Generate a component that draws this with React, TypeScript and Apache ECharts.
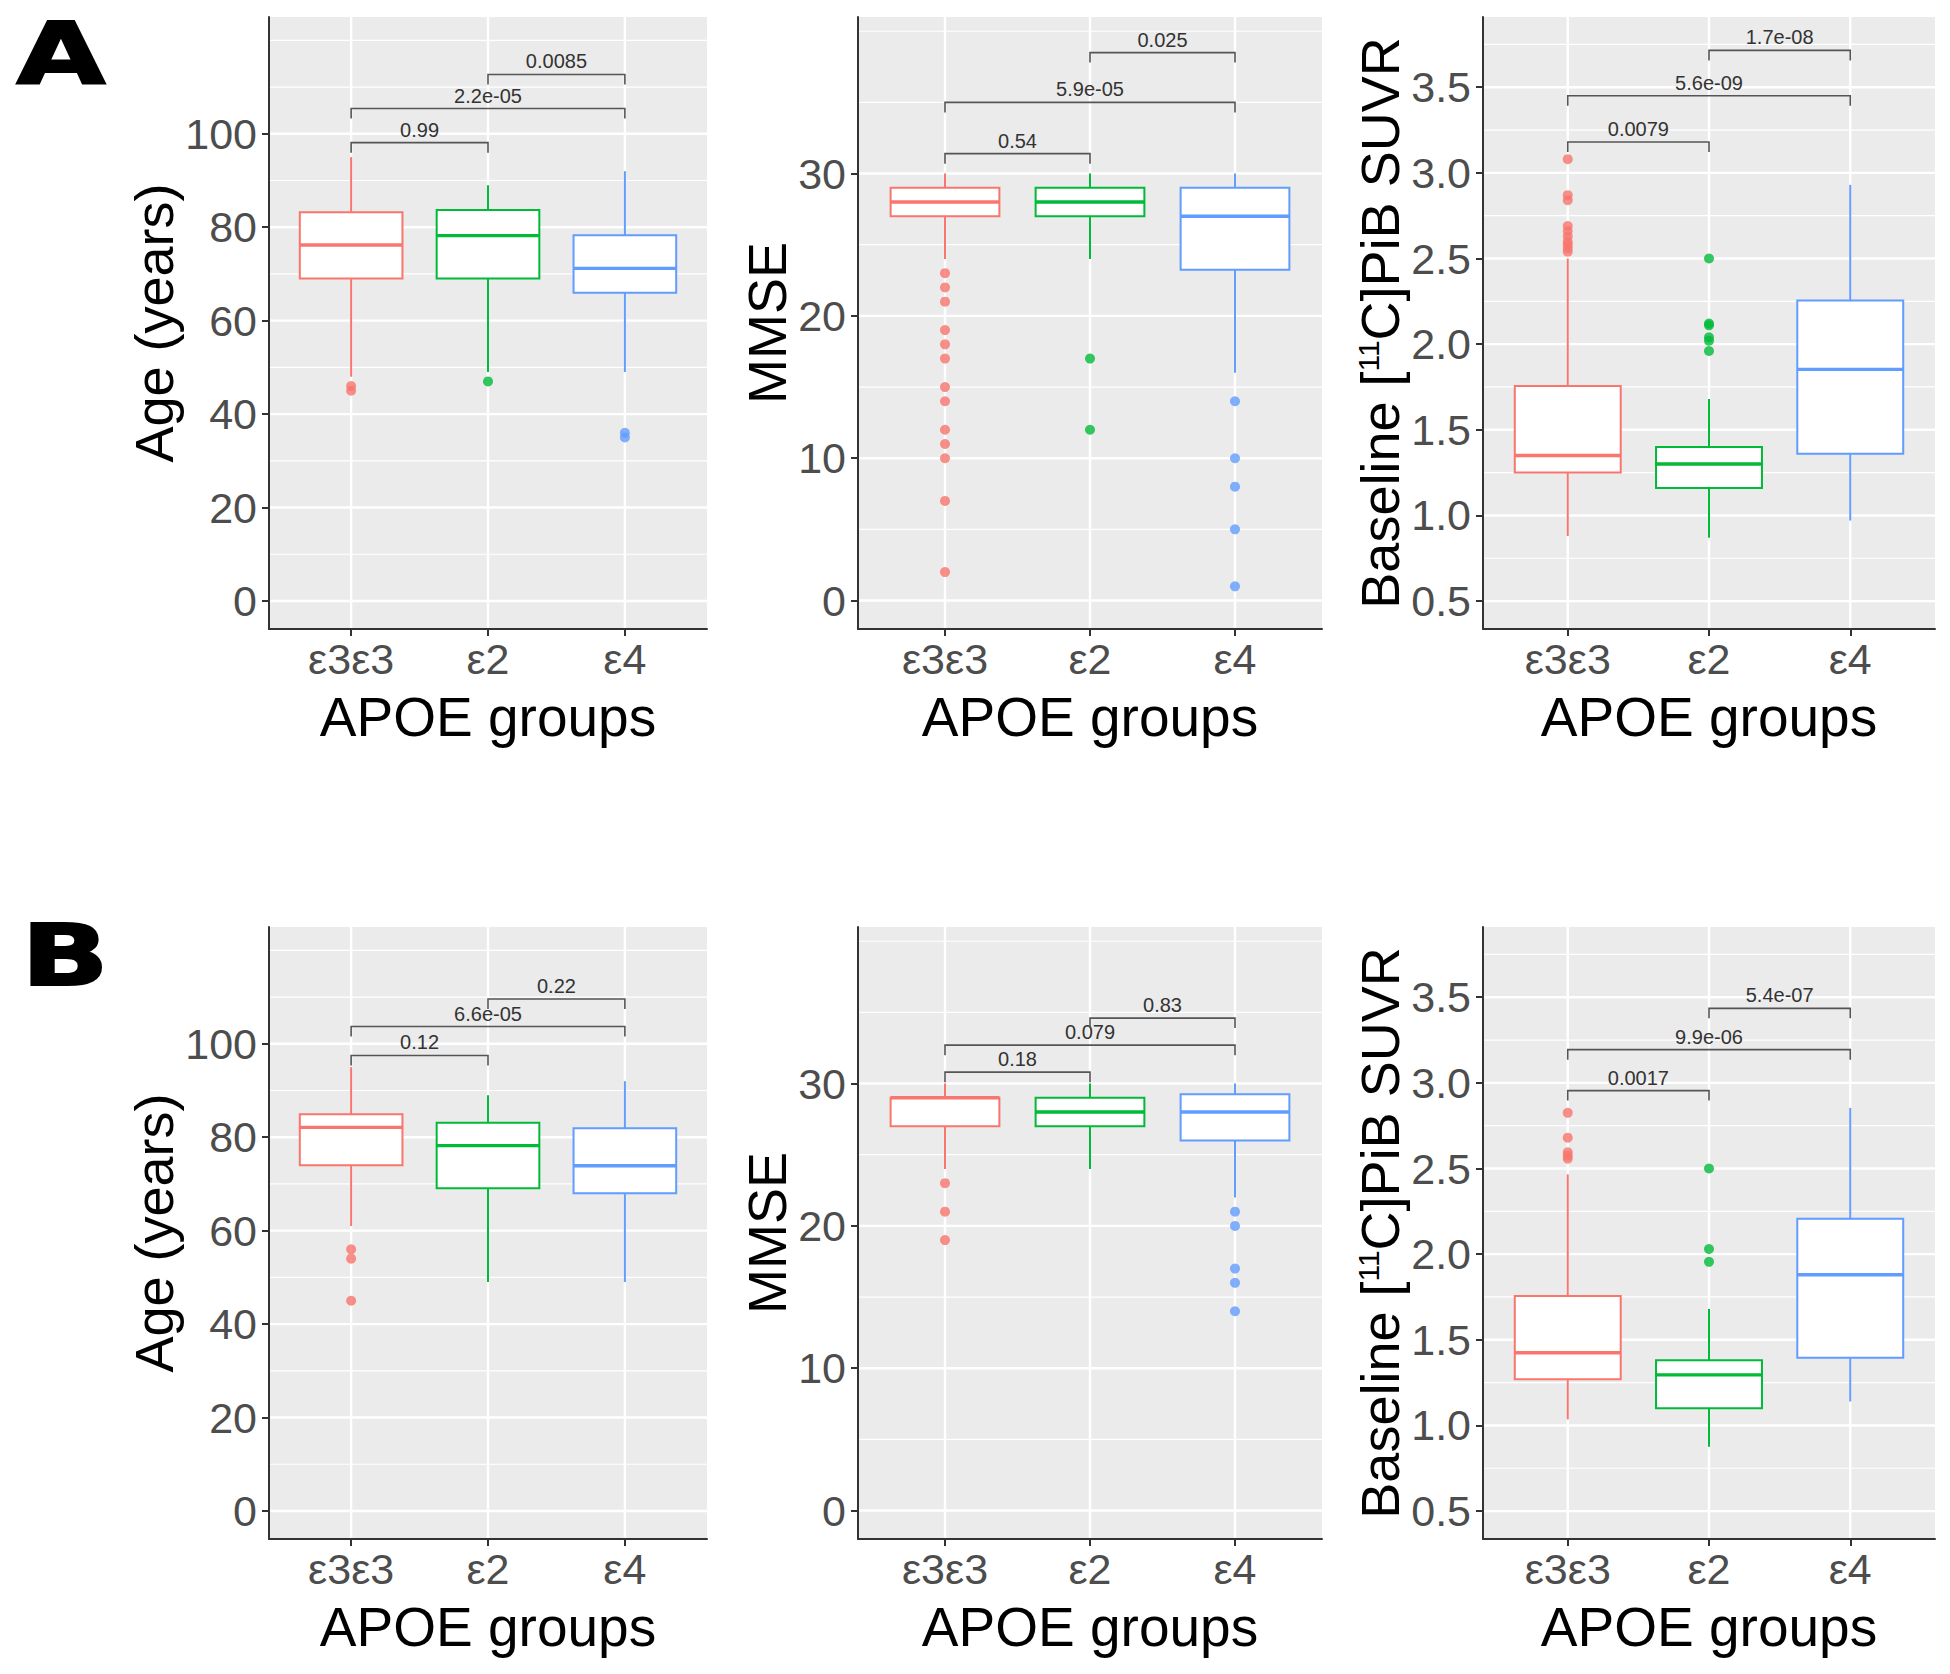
import React, { useEffect, useRef } from "react";
import * as echarts from "echarts";

// ---------- data ----------
const categories = ["ε3ε3", "ε2", "ε4"];
const groupColors = ["#F8766D", "#00BA38", "#619CFF"];

// box stats per group: [lower whisker, Q1, median, Q3, upper whisker]
const ageBoxA = [
  [48, 69, 76.2, 83.2, 95],
  [49, 69, 78.2, 83.7, 89],
  [49, 66, 71.2, 78.3, 92],
];
const ageOutA = [[45, 46], [47], [35, 36]];
const ageBrA = [[0, 1, 98.1], [0, 2, 105.4], [1, 2, 112.7]];
const ageBrLabA = ["0.99", "2.2e-05", "0.0085"];

const mmseBoxA = [
  [24, 27, 28, 29, 30],
  [24, 27, 28, 29, 30],
  [16, 23.25, 27, 29, 30],
];
const mmseOutA = [
  [23, 22, 21, 19, 18, 17, 15, 14, 12, 11, 10, 7, 2],
  [17, 12],
  [14, 10, 8, 5, 1],
];
const mmseBrA = [[0, 1, 31.4], [0, 2, 35.0], [1, 2, 38.5]];
const mmseBrLabA = ["0.54", "5.9e-05", "0.025"];

const pibBoxA = [
  [0.88, 1.25, 1.35, 1.755, 2.5],
  [0.87, 1.16, 1.3, 1.4, 1.68],
  [0.97, 1.36, 1.853, 2.255, 2.93],
];
const pibOutA = [
  [3.08, 2.87, 2.84, 2.69, 2.66, 2.63, 2.6, 2.58, 2.56, 2.54],
  [2.5, 2.12, 2.11, 2.04, 2.02, 1.96],
  [],
];
const pibBrA = [[0, 1, 3.18], [0, 2, 3.45], [1, 2, 3.715]];
const pibBrLabA = ["0.0079", "5.6e-09", "1.7e-08"];

const ageBoxB = [
  [61, 74, 82.1, 84.9, 95],
  [49, 69.1, 78.2, 83.1, 89],
  [49, 68, 73.9, 81.9, 92],
];
const ageOutB = [[56, 54, 45], [], []];
const ageBrB = [[0, 1, 97.5], [0, 2, 103.7], [1, 2, 109.6]];
const ageBrLabB = ["0.12", "6.6e-05", "0.22"];

const mmseBoxB = [
  [24, 27, 29, 29, 30],
  [24, 27, 28, 29, 30],
  [22, 26, 28, 29.25, 30],
];
const mmseOutB = [[23, 21, 19], [], [21, 20, 17, 16, 14]];
const mmseBrB = [[0, 1, 30.8], [0, 2, 32.7], [1, 2, 34.6]];
const mmseBrLabB = ["0.18", "0.079", "0.83"];

const pibBoxB = [
  [1.035, 1.27, 1.424, 1.755, 2.466],
  [0.875, 1.1, 1.295, 1.38, 1.68],
  [1.14, 1.395, 1.88, 2.206, 2.854],
];
const pibOutB = [[2.825, 2.68, 2.595, 2.575, 2.557], [2.5, 2.03, 1.955], []];
const pibBrB = [[0, 1, 2.955], [0, 2, 3.194], [1, 2, 3.435]];
const pibBrLabB = ["0.0017", "9.9e-06", "5.4e-07"];

// axis ticks / limits
const ageMajor = [0, 20, 40, 60, 80, 100];
const ageMinor = [10, 30, 50, 70, 90, 110, 120];
const ageLim = [-6, 125];
const mmseMajor = [0, 10, 20, 30];
const mmseMinor = [5, 15, 25, 35, 40];
const mmseLim = [-2, 41];
const pibMajor = [0.5, 1, 1.5, 2, 2.5, 3, 3.5];
const pibMinor = [0.75, 1.25, 1.75, 2.25, 2.75, 3.25, 3.75];
const pibLim = [0.337, 3.91];

const xName = "APOE groups";
const yNames = ["Age (years)", "MMSE", "Baseline [{sup|11}C]PiB SUVR"];
const panelLetters = ["A", "B"];

// ---------- layout ----------
const rowTops = [17, 927];
const plotH = 612;
const colLefts = [269, 858, 1483];
const colWidths = [438, 464, 452];
const yNameGaps = [83, 57, 72];
const FONT = "Liberation Sans, Arial, Helvetica, sans-serif";

type Panel = {
  box: number[][];
  out: number[][];
  br: number[][];
  brLab: string[];
  major: number[];
  minor: number[];
  lim: number[];
  dec: number;
};

const panels: Panel[][] = [
  [
    { box: ageBoxA, out: ageOutA, br: ageBrA, brLab: ageBrLabA, major: ageMajor, minor: ageMinor, lim: ageLim, dec: 0 },
    { box: mmseBoxA, out: mmseOutA, br: mmseBrA, brLab: mmseBrLabA, major: mmseMajor, minor: mmseMinor, lim: mmseLim, dec: 0 },
    { box: pibBoxA, out: pibOutA, br: pibBrA, brLab: pibBrLabA, major: pibMajor, minor: pibMinor, lim: pibLim, dec: 1 },
  ],
  [
    { box: ageBoxB, out: ageOutB, br: ageBrB, brLab: ageBrLabB, major: ageMajor, minor: ageMinor, lim: ageLim, dec: 0 },
    { box: mmseBoxB, out: mmseOutB, br: mmseBrB, brLab: mmseBrLabB, major: mmseMajor, minor: mmseMinor, lim: mmseLim, dec: 0 },
    { box: pibBoxB, out: pibOutB, br: pibBrB, brLab: pibBrLabB, major: pibMajor, minor: pibMinor, lim: pibLim, dec: 1 },
  ],
];

function buildOption() {
  const grid: any[] = [];
  const xAxis: any[] = [];
  const yAxis: any[] = [];
  const series: any[] = [];
  const catPos = categories.map((_, i) => i + 1);

  panels.forEach((row, r) => {
    row.forEach((p, c) => {
      const idx = grid.length;
      grid.push({
        left: colLefts[c],
        top: rowTops[r],
        width: colWidths[c],
        height: plotH,
        show: true,
        backgroundColor: "#EBEBEB",
        borderWidth: 0,
      });
      xAxis.push({
        gridIndex: idx,
        type: "value",
        min: 0.4,
        max: 3.6,
        z: 6,
        axisLine: { show: true, onZero: false, lineStyle: { color: "#333", width: 2 } },
        axisTick: { show: true, customValues: catPos, length: 7, lineStyle: { color: "#333", width: 2 } },
        axisLabel: {
          customValues: catPos,
          margin: 8,
          fontSize: 43,
          color: "#4D4D4D",
          fontFamily: FONT,
          formatter: (v: number) => categories[Math.round(v) - 1] ?? "",
        },
        splitLine: { show: false },
        name: xName,
        nameLocation: "middle",
        nameGap: 60,
        nameTextStyle: { fontSize: 55, color: "#000", fontFamily: FONT },
      });
      yAxis.push({
        gridIndex: idx,
        type: "value",
        min: p.lim[0],
        max: p.lim[1],
        z: 6,
        axisLine: { show: true, onZero: false, lineStyle: { color: "#333", width: 2 } },
        axisTick: { show: true, customValues: p.major, length: 7, lineStyle: { color: "#333", width: 2 } },
        axisLabel: {
          customValues: p.major,
          margin: 12,
          fontSize: 43,
          color: "#4D4D4D",
          fontFamily: FONT,
          formatter: (v: number) => v.toFixed(p.dec),
        },
        splitLine: { show: false },
        name: yNames[c],
        nameLocation: "middle",
        nameGap: yNameGaps[c],
        nameTextStyle: {
          fontSize: 54,
          color: "#000",
          fontFamily: FONT,
          rich: {
            sup: { fontSize: 30, color: "#000", fontFamily: FONT, verticalAlign: "top", lineHeight: 54 },
          },
        },
      });

      // grid lines: kind 0 major horizontal, 1 minor horizontal, 2 vertical
      const gl: number[][] = [
        ...p.minor.map((v) => [v, 1]),
        ...p.major.map((v) => [v, 0]),
        ...catPos.map((v) => [v, 2]),
      ];
      const yMin = p.lim[0];
      const yMax = p.lim[1];
      series.push({
        type: "custom",
        xAxisIndex: idx,
        yAxisIndex: idx,
        z: 1,
        silent: true,
        data: gl,
        renderItem: (params: any, api: any) => {
          const v = api.value(0);
          const kind = api.value(1);
          let a, b;
          if (kind === 2) {
            a = api.coord([v, yMin]);
            b = api.coord([v, yMax]);
          } else {
            a = api.coord([0.4, v]);
            b = api.coord([3.6, v]);
          }
          return {
            type: "line",
            shape: { x1: a[0], y1: a[1], x2: b[0], y2: b[1] },
            style: { stroke: "#FFFFFF", lineWidth: kind === 1 ? 1.2 : 2.4 },
          };
        },
      });

      // boxes
      series.push({
        type: "custom",
        xAxisIndex: idx,
        yAxisIndex: idx,
        z: 3,
        data: p.box.map((b, i) => [i + 1, ...b, i]),
        encode: { x: 0, y: [1, 2, 3, 4, 5] },
        renderItem: (params: any, api: any) => {
          const x = api.value(0);
          const mn = api.value(1);
          const q1 = api.value(2);
          const md = api.value(3);
          const q3 = api.value(4);
          const mx = api.value(5);
          const col = groupColors[api.value(6)];
          const hw = 0.375;
          const pMax = api.coord([x, mx]);
          const pQ3 = api.coord([x, q3]);
          const pQ1 = api.coord([x, q1]);
          const pMin = api.coord([x, mn]);
          const tl = api.coord([x - hw, q3]);
          const br = api.coord([x + hw, q1]);
          const ml = api.coord([x - hw, md]);
          const mr = api.coord([x + hw, md]);
          return {
            type: "group",
            children: [
              { type: "line", shape: { x1: pMax[0], y1: pMax[1], x2: pQ3[0], y2: pQ3[1] }, style: { stroke: col, lineWidth: 2 } },
              { type: "line", shape: { x1: pQ1[0], y1: pQ1[1], x2: pMin[0], y2: pMin[1] }, style: { stroke: col, lineWidth: 2 } },
              {
                type: "rect",
                shape: { x: tl[0], y: tl[1], width: br[0] - tl[0], height: br[1] - tl[1] },
                style: { fill: "#FFFFFF", stroke: col, lineWidth: 2 },
              },
              { type: "line", shape: { x1: ml[0], y1: ml[1], x2: mr[0], y2: mr[1] }, style: { stroke: col, lineWidth: 3.4 } },
            ],
          };
        },
      });

      // outliers
      const pts: any[] = [];
      p.out.forEach((arr, g) => arr.forEach((v) => pts.push({ value: [g + 1, v], itemStyle: { color: groupColors[g] } })));
      series.push({
        type: "scatter",
        xAxisIndex: idx,
        yAxisIndex: idx,
        z: 4,
        symbolSize: 10,
        data: pts,
      });

      // significance brackets
      const labs = p.brLab;
      series.push({
        type: "custom",
        xAxisIndex: idx,
        yAxisIndex: idx,
        z: 5,
        silent: true,
        data: p.br.map((b) => [b[0] + 1, b[1] + 1, b[2]]),
        encode: { x: [0, 1], y: 2 },
        renderItem: (params: any, api: any) => {
          const a = api.coord([api.value(0), api.value(2)]);
          const b = api.coord([api.value(1), api.value(2)]);
          const tip = 10;
          return {
            type: "group",
            children: [
              {
                type: "polyline",
                shape: { points: [[a[0], a[1] + tip], [a[0], a[1]], [b[0], b[1]], [b[0], b[1] + tip]] },
                style: { stroke: "#555", lineWidth: 1.6, fill: "none" },
              },
              {
                type: "text",
                style: {
                  text: labs[params.dataIndex],
                  x: (a[0] + b[0]) / 2,
                  y: a[1] - 3,
                  textAlign: "center",
                  textVerticalAlign: "bottom",
                  fontSize: 20,
                  fontFamily: FONT,
                  fill: "#333",
                },
              },
            ],
          };
        },
      });
    });
  });

  const graphic = panelLetters.map((t, r) => ({
    type: "text",
    x: r === 0 ? 61 : 65,
    y: r === 0 ? 54 : 956,
    scaleX: 1.35,
    style: {
      text: t,
      x: 0,
      y: 0,
      textAlign: "center",
      textVerticalAlign: "middle",
      fontSize: 85,
      fontWeight: "bold",
      fontFamily: "DejaVu Sans, Liberation Sans, sans-serif",
      fill: "#000",
      stroke: "#000",
      lineWidth: 2,
    },
  }));

  return { animation: false, backgroundColor: "#FFFFFF", grid, xAxis, yAxis, series, graphic };
}

export default function App() {
  const ref = useRef<HTMLDivElement>(null);
  useEffect(() => {
    if (!ref.current) return;
    const chart = echarts.init(ref.current, undefined, { renderer: "svg" });
    chart.setOption(buildOption() as any);
    return () => chart.dispose();
  }, []);
  return (
    <div
      ref={ref}
      style={{ position: "absolute", left: 0, top: 0, width: 1950, height: 1674, background: "#fff" }}
    />
  );
}
